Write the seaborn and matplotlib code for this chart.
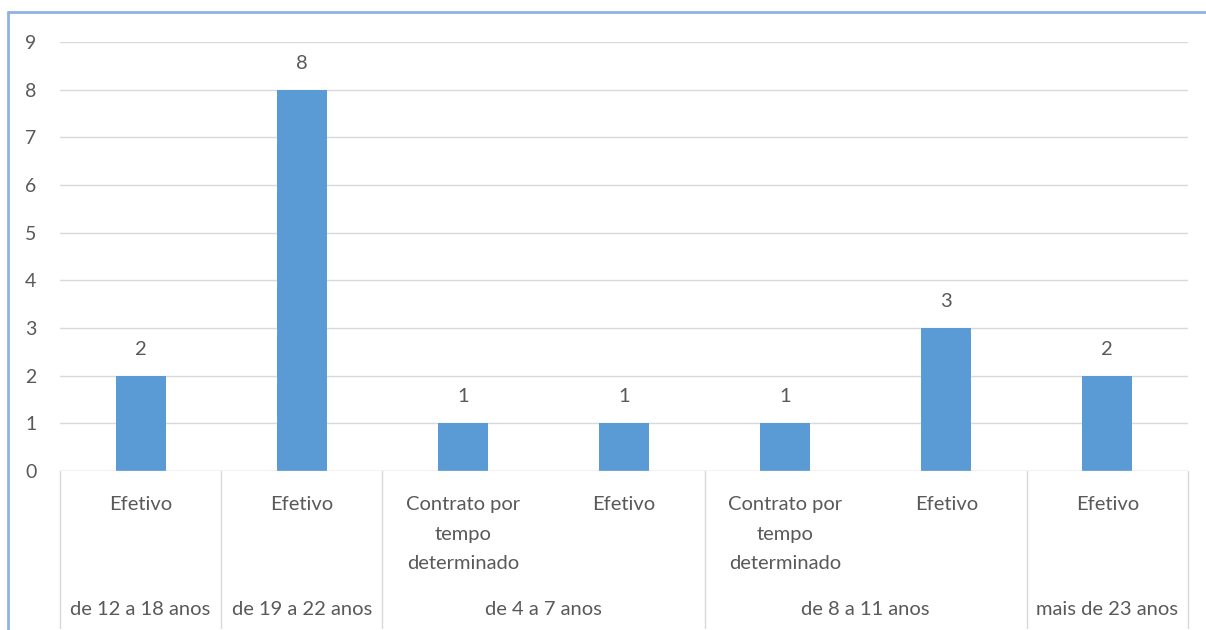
import matplotlib
matplotlib.use("Agg")
import matplotlib.pyplot as plt
import seaborn as sns
import pandas as pd
from matplotlib.lines import Line2D
from matplotlib.transforms import blended_transform_factory

# ---- data ----
groups = ["de 12 a 18 anos", "de 19 a 22 anos", "de 4 a 7 anos", "de 4 a 7 anos",
          "de 8 a 11 anos", "de 8 a 11 anos", "mais de 23 anos"]
subcats = ["Efetivo", "Efetivo", "Contrato por\ntempo\ndeterminado", "Efetivo",
           "Contrato por\ntempo\ndeterminado", "Efetivo", "Efetivo"]
values = [2, 8, 1, 1, 1, 3, 2]
yticks = list(range(0, 10))

sns.set_theme(style="white")
plt.rcParams['font.family'] = ['Lato', 'DejaVu Sans']

txt = "#595959"
grid = "#D9D9D9"
bar_color = "#5B9BD5"
fs = 14.5

df = pd.DataFrame({"pos": [str(i) for i in range(len(values))], "val": values})

fig = plt.figure(figsize=(12.06, 6.3), dpi=100)
ax = fig.add_axes([0.0498, 0.2524, 0.985 - 0.0498, 0.9333 - 0.2524])

sns.barplot(data=df, x="pos", y="val", color=bar_color, width=0.31,
            saturation=1, ax=ax, edgecolor="none")

ax.set_ylim(0, 9)
ax.set_xlim(-0.5, len(values) - 0.5)
ax.set_yticks(yticks)
ax.set_yticklabels([str(t) for t in yticks], color=txt, fontsize=14)
ax.tick_params(axis='y', length=0, pad=17)
ax.set_xticks([])
ax.set_xlabel("")
ax.set_ylabel("")
ax.yaxis.grid(True, color=grid, linewidth=1)
ax.set_axisbelow(True)
for s in ax.spines.values():
    s.set_visible(False)
ax.axhline(0, color=grid, linewidth=1)

for c in ax.containers:
    ax.bar_label(c, labels=[str(v) for v in values], padding=13, color=txt, fontsize=fs)

# multi-level category axis
tr = blended_transform_factory(ax.transData, ax.transAxes)
for i, s in enumerate(subcats):
    ax.text(i, -0.059, s, transform=tr, ha="center", va="top", color=txt,
            fontsize=fs, linespacing=1.9, clip_on=False)

# group labels and separators
spans = []
start = 0
for i in range(1, len(groups) + 1):
    if i == len(groups) or groups[i] != groups[start]:
        spans.append((start, i - 1, groups[start]))
        start = i
for a, b, g in spans:
    ax.text((a + b) / 2, -0.322, g, transform=tr, ha="center", va="center",
            color=txt, fontsize=fs, clip_on=False)
bounds = [-0.5] + [b + 0.5 for a, b, g in spans]
for x in bounds:
    ax.add_line(Line2D([x, x], [0, -0.365], transform=tr, color=grid,
                       linewidth=1, clip_on=False))

# chart frame (left and top edges visible)
fig.add_artist(Line2D([0.0065, 0.0065], [0.0, 0.981], transform=fig.transFigure,
                      color="#8DB3E2", linewidth=2))
fig.add_artist(Line2D([0.0065, 1.0], [0.981, 0.981], transform=fig.transFigure,
                      color="#8DB3E2", linewidth=2))

fig.savefig("out.png", dpi=100)
